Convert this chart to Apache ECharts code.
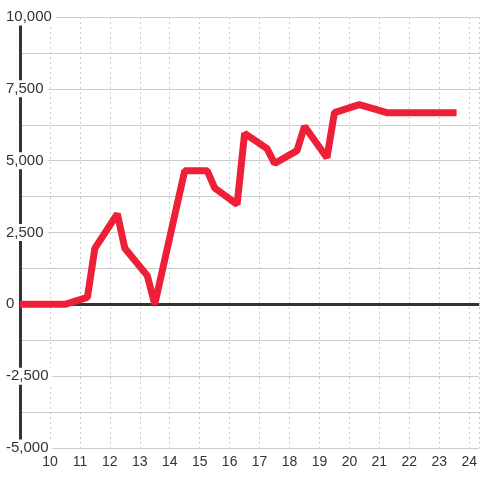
<!DOCTYPE html>
<html>
<head>
<meta charset="utf-8">
<script src="https://cdn.jsdelivr.net/npm/echarts@6/dist/echarts.min.js"></script>
<style>
  html, body { margin: 0; padding: 0; background: #fff; }
  #chart { width: 480px; height: 480px; }
</style>
</head>
<body>
<div id="chart"></div>
<script>
// data
const xValues = [9, 10.5, 11.25, 11.5, 12.25, 12.5, 13.25, 13.5, 14.5, 15.25, 15.5, 16.25, 16.5, 17.25, 17.5, 18.25, 18.5, 19.25, 19.5, 20.33, 21.25, 23.58]
const yValues = [0, 0, 240, 1950, 3150, 1950, 1000, 0, 4650, 4650, 4050, 3480, 5950, 5420, 4900, 5350, 6200, 5100, 6670, 6950, 6670, 6670]
const yLabelValues = [-5000, -2500, 0, 2500, 5000, 7500, 10000]

const seriesData = xValues.map((x, i) => [x, yValues[i]])

let mycharts = echarts.init(document.getElementById('chart'))
let option = {
  backgroundColor: '#fff',
  animation: false,
  grid: {
    left: 20,
    top: 17,
    right: 0,
    bottom: 32
  },
  xAxis: {
    type: 'value',
    min: 9,
    max: 24 + 1 / 3,   // plot is cut at the right edge
    interval: 1,
    axisLine: { show: false },
    axisTick: { show: false },
    axisLabel: {
      showMinLabel: false,
      showMaxLabel: false,
      color: '#333',
      fontSize: 14,
      fontFamily: 'Liberation Sans',
      margin: 7
    },
    splitLine: {
      show: true,
      lineStyle: { color: '#ccc', type: [2, 3], width: 1 }
    }
  },
  yAxis: {
    type: 'value',
    min: -5000,
    max: 10000,
    interval: 1250,
    axisLine: {
      show: true,
      lineStyle: { color: '#333', width: 3 }
    },
    axisTick: { show: false },
    axisLabel: {
      color: '#333',
      fontSize: 15,
      fontFamily: 'Liberation Sans',
      align: 'left',
      margin: 14,
      backgroundColor: '#fff',
      padding: [1, 4, 1, 0],
      formatter: function (v) {
        return yLabelValues.indexOf(v) >= 0 ? v.toLocaleString('en-US') : ''
      }
    },
    splitLine: {
      show: true,
      lineStyle: { color: '#ccc', width: 1 }
    }
  },
  series: [
    {
      type: 'line',
      data: seriesData,
      symbol: 'none',
      z: 3,
      lineStyle: { color: '#ee2038', width: 7 },
      markLine: {
        silent: true,
        z: 1,
        symbol: 'none',
        label: { show: false },
        lineStyle: { color: '#333', width: 3, type: 'solid' },
        data: [{ yAxis: 0 }]
      }
    }
  ]
}
mycharts.setOption(option)
</script>
</body>
</html>
